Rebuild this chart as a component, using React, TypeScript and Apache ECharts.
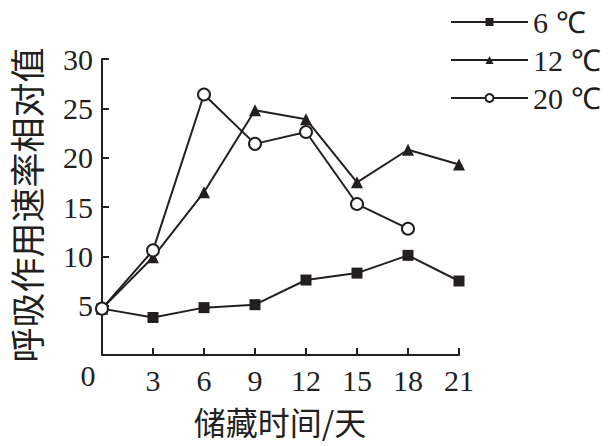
import React, { useEffect, useRef } from "react";
import * as echarts from "echarts";

const days = [0, 3, 6, 9, 12, 15, 18, 21];
const temp6 = [4.7, 3.8, 4.8, 5.1, 7.6, 8.3, 10.1, 7.5];
const temp12 = [4.7, 9.9, 16.5, 24.8, 23.9, 17.5, 20.8, 19.3];
const temp20 = [4.7, 10.6, 26.4, 21.4, 22.6, 15.3, 12.8];
const seriesNames = ["6 ℃", "12 ℃", "20 ℃"];
const xTitle = "储藏时间/天";
const yTitle = "呼吸作用速率相对值";
const originLabel = "0";

const INK = "#231f20";
const SERIF = "Liberation Serif";
const CJK = "Noto Sans CJK SC";

const pairs = (vals: number[]) => vals.map((v, i) => [days[i], v]);

export default function App() {
  const ref = useRef<HTMLDivElement>(null);
  useEffect(() => {
    if (!ref.current) return;
    const chart = echarts.init(ref.current, null, { renderer: "svg" });
    const hideZero = (v: number) => (v === 0 ? "" : String(v));
    chart.setOption({
      animation: false,
      backgroundColor: "#ffffff",
      grid: { left: 102, top: 59, width: 357, height: 296, containLabel: false },
      legend: {
        orient: "vertical",
        left: 445,
        top: 2,
        itemWidth: 77,
        itemHeight: 10,
        itemGap: 8,
        data: seriesNames,
        textStyle: { fontSize: 30, lineHeight: 30, fontFamily: SERIF, color: INK },
      },
      xAxis: {
        type: "value",
        min: 0,
        max: 21,
        interval: 3,
        splitLine: { show: false },
        axisLine: { show: true, lineStyle: { color: INK, width: 2 } },
        axisTick: { show: true, inside: true, length: 7, lineStyle: { color: INK, width: 2 } },
        axisLabel: { formatter: hideZero, fontSize: 30, fontFamily: SERIF, color: INK, margin: 10 },
      },
      yAxis: {
        type: "value",
        min: 0,
        max: 30,
        interval: 5,
        splitLine: { show: false },
        axisLine: { show: true, lineStyle: { color: INK, width: 2 } },
        axisTick: { show: true, inside: true, length: 7, lineStyle: { color: INK, width: 2 } },
        axisLabel: { formatter: hideZero, fontSize: 30, fontFamily: SERIF, color: INK, margin: 9 },
      },
      graphic: [
        {
          type: "text",
          x: 88,
          y: 375,
          style: { text: originLabel, fontSize: 30, fontFamily: SERIF, fill: INK, align: "center", verticalAlign: "middle" },
        },
        {
          type: "text",
          x: 280,
          y: 421,
          style: { text: xTitle, fontSize: 32, fontFamily: CJK, fill: INK, align: "center", verticalAlign: "middle" },
        },
        {
          type: "text",
          x: 25,
          y: 205,
          rotation: Math.PI / 2,
          style: { text: yTitle, fontSize: 35, fontFamily: CJK, fill: INK, align: "center", verticalAlign: "middle" },
        },
      ],
      series: [
        {
          name: seriesNames[0],
          type: "line",
          data: pairs(temp6),
          symbol: "rect",
          symbolSize: 11,
          lineStyle: { color: INK, width: 2 },
          itemStyle: { color: INK },
        },
        {
          name: seriesNames[1],
          type: "line",
          data: pairs(temp12),
          symbol: "triangle",
          symbolSize: 12,
          lineStyle: { color: INK, width: 2 },
          itemStyle: { color: INK },
        },
        {
          name: seriesNames[2],
          type: "line",
          data: pairs(temp20),
          symbol: "emptyCircle",
          symbolSize: 12,
          lineStyle: { color: INK, width: 2 },
          itemStyle: { color: INK, borderWidth: 2 },
        },
      ],
    });
    return () => chart.dispose();
  }, []);
  return <div ref={ref} style={{ position: "absolute", left: 0, top: 0, width: 611, height: 446 }} />;
}
